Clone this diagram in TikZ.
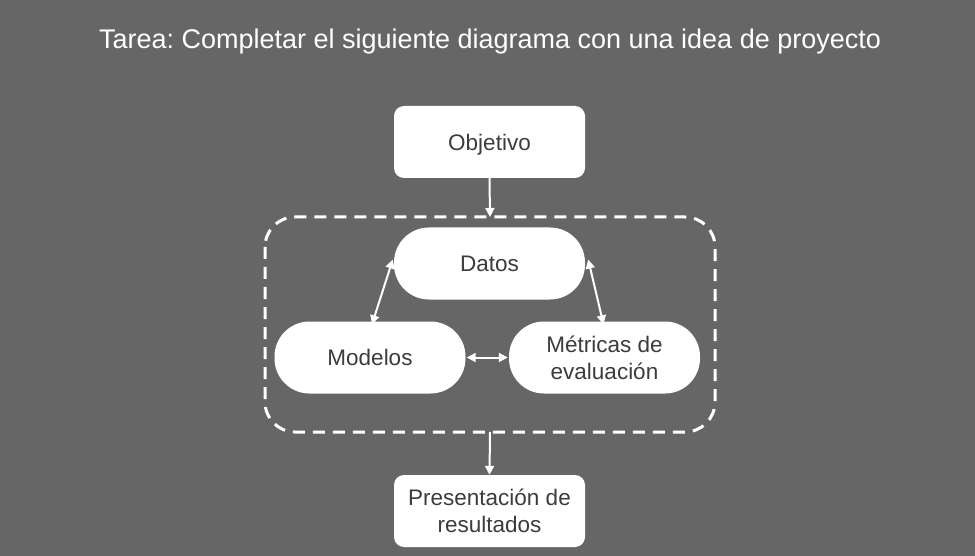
\documentclass[tikz,border=0pt]{standalone}
\usepackage{fontspec}
\setmainfont{Liberation Sans}
\usetikzlibrary{arrows.meta,calc}
\definecolor{bg}{HTML}{666666}
\definecolor{txt}{HTML}{3C3C3C}
\frenchspacing
\begin{document}
\begin{tikzpicture}[x=1pt,y=-1pt,
  box/.style={fill=white,text=txt,minimum width=191pt,minimum height=72pt,inner sep=0pt,align=center,font=\fontsize{22.5}{27}\selectfont},
  one/.style={text height=16.5pt,text depth=0pt},
  rbox/.style={box,rounded corners=10pt},
  pill/.style={box,rounded corners=35pt},
  con/.style={draw=white,line width=2pt,-{Triangle[length=9pt,width=9pt]}},
  bicon/.style={con,{Triangle[length=9pt,width=9pt]}-{Triangle[length=9pt,width=9pt]}},
  frame/.style={draw=white,line width=3pt,dash pattern=on 12pt off 8pt,rounded corners=30pt}]
\fill[bg] (0,0) rectangle (975,556);
\useasboundingbox (0,0) rectangle (975,556);
\node[text=white,anchor=base,font=\fontsize{27}{32}\selectfont] (title) at (490,49) {Tarea: Completar el siguiente diagrama con una idea de proyecto};
\draw[frame] (265,217) rectangle (715,432);
\coordinate (ftop) at (490,217);
\coordinate (fbot) at (490,432);
\node[rbox,one] (obj) at (489.5,142) {Objetivo};
\node[pill,one] (datos) at (489.5,263.5) {Datos};
\node[pill,one] (mod) at (370,357.5) {Modelos};
\node[pill] (met) at (604.5,357.5) {Métricas de\\evaluación};
\node[rbox] (pres) at (489.5,511) {Presentación de\\resultados};
\draw[con] (obj.south) -- (ftop);
\draw[con] (fbot) -- (pres.north);
\draw[bicon] ([xshift=-1pt,yshift=4pt]datos.west) -- ([xshift=2pt,yshift=-3pt]mod.north);
\draw[bicon] ([xshift=3pt,yshift=4pt]datos.east) -- ([xshift=-1pt,yshift=-3pt]met.north);
\draw[bicon] ([xshift=1pt]mod.east) -- ([xshift=-1pt]met.west);
\end{tikzpicture}
\end{document}
